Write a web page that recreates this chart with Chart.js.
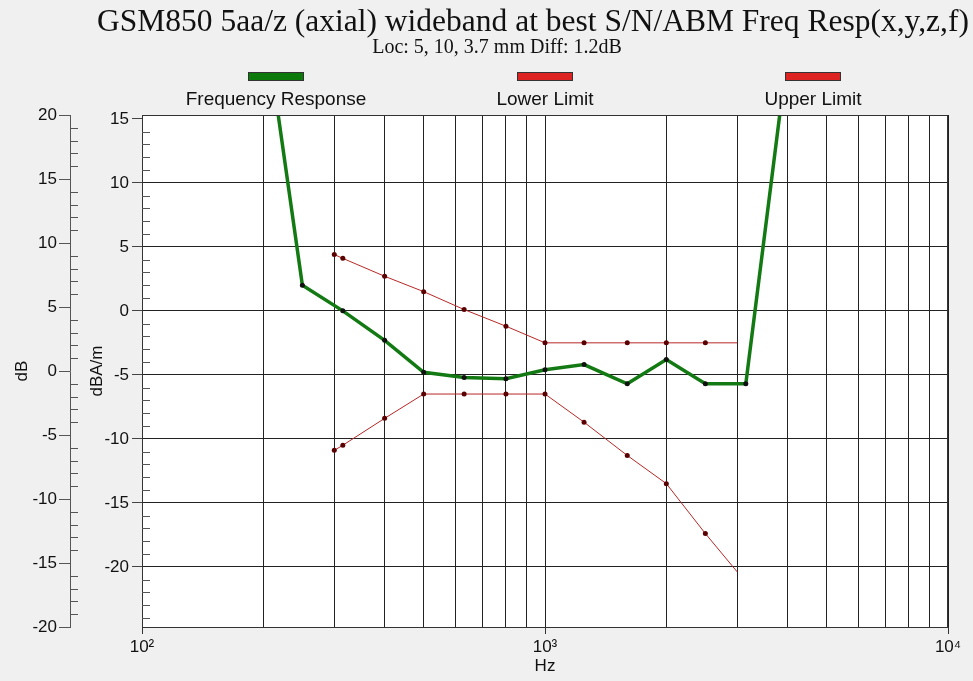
<!DOCTYPE html>
<html>
<head>
<meta charset="utf-8">
<script src="https://cdn.jsdelivr.net/npm/chart.js@4.4.1/dist/chart.umd.min.js"></script>
<style>
  html, body { margin: 0; padding: 0; background: #f0f0f0; }
  canvas { display: block; }
</style>
</head>
<body>
<canvas id="freqChart" width="973" height="681"></canvas>
<script>
// Frequency response measured at best S/N location (Hz, dBA/m)
var respFreq = [200, 250, 315, 400, 500, 630, 800, 1000, 1250, 1600, 2000, 2500, 3150, 4000];
var respDb   = [23.5, 2.0, 0.0, -2.3, -4.8, -5.2, -5.3, -4.6, -4.2, -5.7, -3.8, -5.7, -5.7, 20.2];

// Mask limits (Hz, dBA/m)
var limitFreq = [300, 315, 400, 500, 630, 800, 1000, 1250, 1600, 2000, 2500, 3000];
var lowerDb   = [-10.9, -10.5, -8.4, -6.5, -6.5, -6.5, -6.5, -8.7, -11.3, -13.5, -17.4, -20.4];
var upperDb   = [4.4, 4.1, 2.7, 1.5, 0.1, -1.2, -2.5, -2.5, -2.5, -2.5, -2.5, -2.5];

// Axis tick labels
var innerTicks = [-20, -15, -10, -5, 0, 5, 10, 15];
var outerTicks = [-20, -15, -10, -5, 0, 5, 10, 15, 20];
var decadeLabels = { 100: '10\u00b2', 1000: '10\u00b3', 10000: '10\u2074' };

var legendItems = [
    { label: 'Frequency Response', color: '#0b7a0b', x: 276 },
    { label: 'Lower Limit', color: '#dd2222', x: 545 },
    { label: 'Upper Limit', color: '#dd2222', x: 813 }
];

function pairs(xs, ys) {
    return xs.map(function(x, i) { return { x: x, y: ys[i] }; });
}

var logTicks = [];
[100, 1000].forEach(function(d) {
    for (var k = 1; k <= 9; k++) logTicks.push(d * k);
});
logTicks.push(10000);

Chart.defaults.font.family = '"Liberation Sans", Arial, sans-serif';
Chart.defaults.color = '#111';

// background, plot frame, minor ticks, titles and legend
var decorations = {
    id: 'decorations',
    beforeDraw: function(chart) {
        var ctx = chart.ctx, a = chart.chartArea;
        ctx.save();
        ctx.fillStyle = '#f0f0f0';
        ctx.fillRect(0, 0, chart.width, chart.height);
        ctx.fillStyle = '#ffffff';
        ctx.fillRect(a.left, a.top, a.right - a.left, a.bottom - a.top);
        ctx.restore();
    },
    afterDraw: function(chart) {
        var ctx = chart.ctx, a = chart.chartArea;
        var y = chart.scales.y, y2 = chart.scales.y2;
        ctx.save();
        ctx.strokeStyle = '#333';
        ctx.lineWidth = 1;
        ctx.strokeRect(a.left + 0.5, a.top + 0.5, a.right - a.left - 1, a.bottom - a.top);

        // minor ticks pointing inward
        ctx.strokeStyle = '#555';
        ctx.beginPath();
        for (var v = -24; v <= 15; v++) {
            if (v % 5 === 0) continue;
            var py = Math.round(y.getPixelForValue(v)) + 0.5;
            ctx.moveTo(a.left, py);
            ctx.lineTo(a.left + 8, py);
        }
        for (var w = -19; w <= 19; w++) {
            if (w % 5 === 0) continue;
            var qy = Math.round(y2.getPixelForValue(w)) + 0.5;
            ctx.moveTo(y2.right, qy);
            ctx.lineTo(y2.right + 8, qy);
        }
        ctx.stroke();

        // titles
        ctx.fillStyle = '#111';
        ctx.textAlign = 'center';
        ctx.textBaseline = 'middle';
        ctx.font = '31.5px "Liberation Serif", "Times New Roman", serif';
        ctx.fillText('GSM850 5aa/z (axial) wideband at best S/N/ABM Freq Resp(x,y,z,f)', 533, 23);
        ctx.font = '20px "Liberation Serif", "Times New Roman", serif';
        ctx.fillText('Loc: 5, 10, 3.7 mm Diff: 1.2dB', 497, 48);

        // legend: swatch above label
        ctx.font = '19px "Liberation Sans", Arial, sans-serif';
        legendItems.forEach(function(it) {
            ctx.fillStyle = it.color;
            ctx.fillRect(it.x - 28, 72, 56, 9);
            ctx.strokeStyle = '#333';
            ctx.strokeRect(it.x - 27.5, 72.5, 55, 8);
            ctx.fillStyle = '#111';
            ctx.fillText(it.label, it.x, 100);
        });
        ctx.restore();
    }
};

var ctx = document.getElementById('freqChart').getContext('2d');
var chart = new Chart(ctx, {
    type: 'line',
    data: {
        datasets: [{
            label: 'Frequency Response',
            data: pairs(respFreq, respDb),
            borderColor: '#137a13',
            borderWidth: 3.5,
            pointRadius: 2.5,
            pointBackgroundColor: '#111',
            pointBorderColor: '#111',
            pointBorderWidth: 0,
            tension: 0,
            yAxisID: 'y'
        }, {
            label: 'Lower Limit',
            data: pairs(limitFreq, lowerDb),
            borderColor: '#b82828',
            borderWidth: 1,
            pointRadius: function(c) { return c.dataIndex === limitFreq.length - 1 ? 0 : 2.5; },
            pointBackgroundColor: '#5a0000',
            pointBorderColor: '#5a0000',
            pointBorderWidth: 0,
            tension: 0,
            yAxisID: 'y'
        }, {
            label: 'Upper Limit',
            data: pairs(limitFreq, upperDb),
            borderColor: '#b82828',
            borderWidth: 1,
            pointRadius: function(c) { return c.dataIndex === limitFreq.length - 1 ? 0 : 2.5; },
            pointBackgroundColor: '#5a0000',
            pointBorderColor: '#5a0000',
            pointBorderWidth: 0,
            tension: 0,
            yAxisID: 'y'
        }]
    },
    options: {
        responsive: false,
        animation: false,
        layout: { padding: { top: 115, right: 25, left: 0, bottom: 0 } },
        plugins: {
            legend: { display: false },
            title: { display: false },
            tooltip: { enabled: false }
        },
        scales: {
            x: {
                type: 'logarithmic',
                min: 100,
                max: 10000,
                afterBuildTicks: function(s) {
                    s.ticks = logTicks.map(function(v) { return { value: v }; });
                },
                afterFit: function(s) { s.height = 54; },
                ticks: {
                    autoSkip: false,
                    maxRotation: 0,
                    padding: 3,
                    font: { size: 17 },
                    callback: function(v) { return decadeLabels[v] || ''; }
                },
                grid: {
                    color: '#222',
                    tickLength: 7,
                    tickColor: function(c) { return decadeLabels[c.tick.value] ? '#333' : 'rgba(0,0,0,0)'; }
                },
                border: { color: '#333' },
                title: { display: true, text: 'Hz', font: { size: 17 } }
            },
            y: {
                position: 'left',
                weight: 0,
                min: -24.7,
                max: 15.3,
                afterBuildTicks: function(s) {
                    s.ticks = innerTicks.map(function(v) { return { value: v }; });
                },
                afterFit: function(s) { s.width = 72; },
                ticks: { padding: 3, font: { size: 17 } },
                grid: {
                    color: function(c) { return c.tick && c.tick.value === 15 ? 'rgba(0,0,0,0)' : '#222'; },
                    tickLength: 10,
                    tickColor: '#444'
                },
                border: { color: '#333' },
                title: { display: true, text: 'dBA/m', font: { size: 17 }, padding: { top: 17, bottom: 4 } }
            },
            y2: {
                position: 'left',
                weight: 1,
                min: -20,
                max: 20,
                afterBuildTicks: function(s) {
                    s.ticks = outerTicks.map(function(v) { return { value: v }; });
                },
                afterFit: function(s) { s.width = 70; },
                ticks: { padding: 2, font: { size: 17 } },
                grid: { drawOnChartArea: false, tickLength: 11, tickColor: '#555' },
                border: { color: '#555' },
                title: { display: true, text: 'dB', font: { size: 17 }, padding: { top: 12, bottom: 4 } }
            }
        }
    },
    plugins: [decorations]
});
</script>
</body>
</html>
